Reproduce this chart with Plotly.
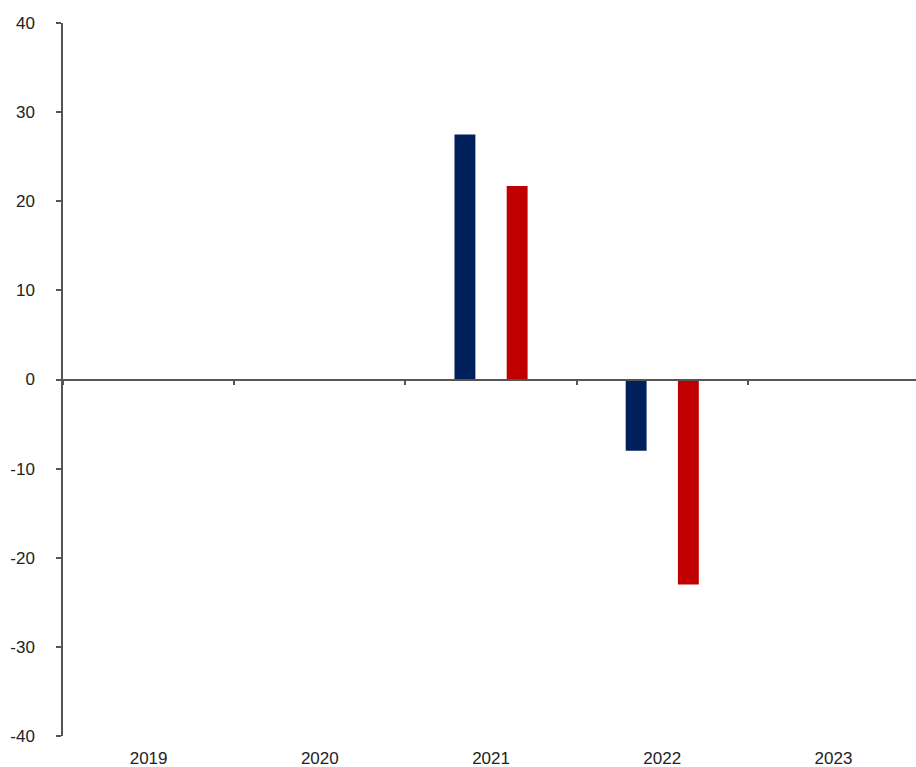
import plotly.graph_objects as go

years = ["2019", "2020", "2021", "2022", "2023"]
series_a = [None, None, 27.5, -8.0, None]
series_b = [None, None, 21.7, -23.0, None]
y_ticks = [-40, -30, -20, -10, 0, 10, 20, 30, 40]
y_tick_labels = ["-40", "-30", "-20", "-10", "0", "10", "20", "30", "40"]

navy = "#00205B"
red = "#C00000"
axis_col = "#555555"
font = dict(family="Liberation Sans, Arial, sans-serif", size=17, color="#222222")

fig = go.Figure()
fig.add_trace(go.Bar(x=years, y=series_a, marker=dict(color=navy, line=dict(width=0)), name="A"))
fig.add_trace(go.Bar(x=years, y=series_b, marker=dict(color=red, line=dict(width=0)), name="B"))
# helper trace for the axis drawn through zero
fig.add_trace(go.Scatter(x=years, y=[0] * len(years), xaxis="x2", mode="markers",
                         marker=dict(opacity=0), hoverinfo="skip", showlegend=False))

x_range = [-0.5, 4.482]

fig.update_layout(
    width=916, height=767,
    margin=dict(l=63, r=0, t=23, b=31),
    paper_bgcolor="white", plot_bgcolor="white",
    showlegend=False,
    barmode="group", bargap=0.39, bargroupgap=0.6,
    font=font,
    xaxis=dict(type="category", categoryorder="array", categoryarray=years,
               range=x_range, showline=False, showgrid=False, zeroline=False,
               ticks="", tickfont=font, automargin=False, ticklabelstandoff=10),
    xaxis2=dict(type="category", categoryorder="array", categoryarray=years,
                range=x_range, overlaying="x", anchor="free", position=0.5,
                side="bottom", showline=True, linecolor=axis_col, linewidth=1.5,
                ticks="outside", ticklen=5, tickwidth=1.5, tickcolor=axis_col,
                tickson="boundaries", showticklabels=False, showgrid=False, zeroline=False),
    yaxis=dict(range=[-40, 40], tickvals=y_ticks, ticktext=y_tick_labels,
               showline=True, linecolor=axis_col,
               linewidth=1.5, ticks="outside", ticklen=5, tickwidth=1.5, tickcolor=axis_col,
               showgrid=False, zeroline=False, tickfont=font, automargin=False,
               ticklabelstandoff=18),
)

fig.write_html("out.html", config={"displayModeBar": False},
               post_script="document.body.style.margin='0';document.body.style.overflow='hidden';")
